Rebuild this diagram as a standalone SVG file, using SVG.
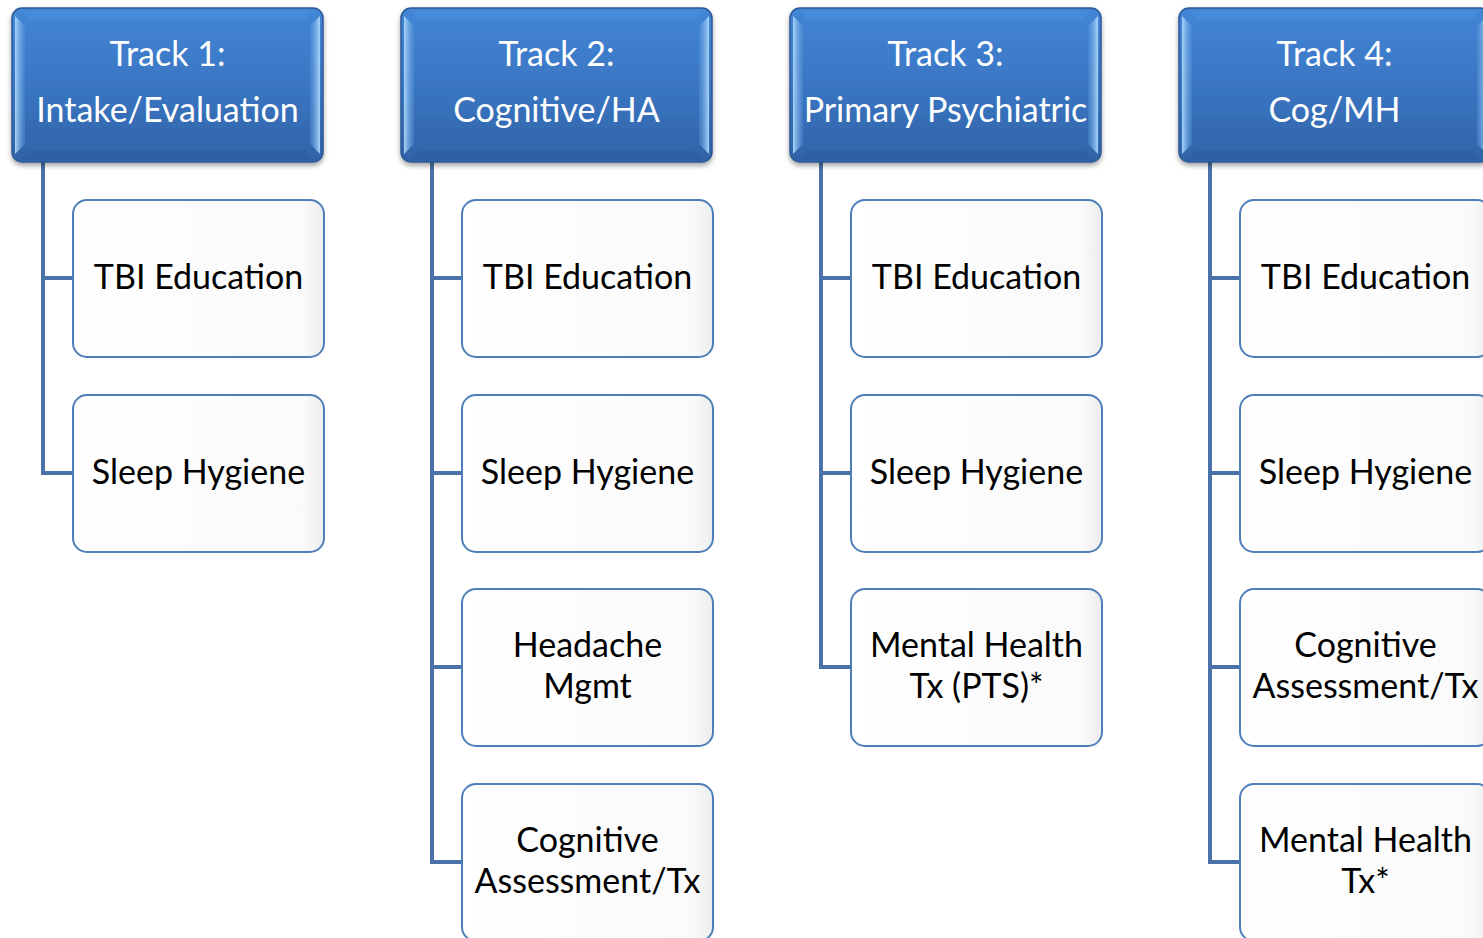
<svg xmlns="http://www.w3.org/2000/svg" width="1483" height="938" viewBox="0 0 1483 938">
  <style>
    .hdr-text { font-family: Lato, "Open Sans", sans-serif; font-size: 34px; fill: #ffffff; text-anchor: middle; }
    .box-text { font-family: Lato, "Open Sans", sans-serif; font-size: 34px; fill: #000000; text-anchor: middle; }
    .conn { fill: none; stroke: #4a72a8; stroke-width: 4; }
    .box { fill: url(#boxFill); stroke: #4f7fb8; stroke-width: 2; }
    .hdr { fill: url(#hdrFill); stroke: #2b5a96; stroke-width: 1.5; }
  </style>
  <defs>
    <linearGradient id="hdrFill" x1="0" y1="0" x2="0" y2="1">
      <stop offset="0" stop-color="#4386d6"/>
      <stop offset="0.5" stop-color="#3a76c3"/>
      <stop offset="1" stop-color="#3063a7"/>
    </linearGradient>
    <linearGradient id="bevelLeft" x1="0" y1="0" x2="1" y2="0">
      <stop offset="0" stop-color="#a8d4f8"/>
      <stop offset="1" stop-color="#5c98dc" stop-opacity="0.3"/>
    </linearGradient>
    <linearGradient id="bevelRight" x1="1" y1="0" x2="0" y2="0">
      <stop offset="0" stop-color="#a8d4f8"/>
      <stop offset="1" stop-color="#5c98dc" stop-opacity="0.3"/>
    </linearGradient>
    <linearGradient id="boxFill" x1="0" y1="0" x2="1" y2="0">
      <stop offset="0" stop-color="#ffffff"/>
      <stop offset="0.92" stop-color="#fafafa"/>
      <stop offset="1" stop-color="#ececec"/>
    </linearGradient>
    <filter id="shadow" x="-10%" y="-10%" width="120%" height="125%">
      <feDropShadow dx="0" dy="3" stdDeviation="2.5" flood-color="#000" flood-opacity="0.35"/>
    </filter>
    <!-- beveled header shape at origin, 311 x 154 -->
    <g id="header">
      <rect class="hdr" x="0" y="0" width="311" height="154" rx="10" filter="url(#shadow)"/>
      <path d="M3 8 L13 18 L13 136 L3 146 Z" fill="url(#bevelLeft)"/>
      <path d="M308 8 L298 18 L298 136 L308 146 Z" fill="url(#bevelRight)"/>
      <path d="M10 2 L301 2 L294 12 L17 12 Z" fill="#4c8fde" opacity="0.5"/>
      <path d="M17 142 L294 142 L301 152 L10 152 Z" fill="#2a5a98" opacity="0.45"/>
    </g>
  </defs>

  <!-- connectors from each track header to its items -->
  <g id="connectors">
    <path class="conn" d="M43 162 V473 H73 M43 278 H73"/>
    <path class="conn" d="M432 162 V862 H462 M432 278 H462 M432 473 H462 M432 667 H462"/>
    <path class="conn" d="M821 162 V667 H851 M821 278 H851 M821 473 H851"/>
    <path class="conn" d="M1210 162 V862 H1240 M1210 278 H1240 M1210 473 H1240 M1210 667 H1240"/>
  </g>

  <!-- Track 1 -->
  <g id="track1">
    <use href="#header" x="12" y="8"/>
    <text class="hdr-text" x="167.5" y="66">Track 1:</text>
    <text class="hdr-text" x="167.5" y="122">Intake/Evaluation</text>
  </g>
  <g id="t1-tbi">
    <rect class="box" x="73" y="200" width="251" height="157" rx="14"/>
    <text class="box-text" x="198.5" y="289">TBI Education</text>
  </g>
  <g id="t1-sleep">
    <rect class="box" x="73" y="395" width="251" height="157" rx="14"/>
    <text class="box-text" x="198.5" y="484">Sleep Hygiene</text>
  </g>

  <!-- Track 2 -->
  <g id="track2">
    <use href="#header" x="401" y="8"/>
    <text class="hdr-text" x="556.5" y="66">Track 2:</text>
    <text class="hdr-text" x="556.5" y="122">Cognitive/HA</text>
  </g>
  <g id="t2-tbi">
    <rect class="box" x="462" y="200" width="251" height="157" rx="14"/>
    <text class="box-text" x="587.5" y="289">TBI Education</text>
  </g>
  <g id="t2-sleep">
    <rect class="box" x="462" y="395" width="251" height="157" rx="14"/>
    <text class="box-text" x="587.5" y="484">Sleep Hygiene</text>
  </g>
  <g id="t2-headache">
    <rect class="box" x="462" y="589" width="251" height="157" rx="14"/>
    <text class="box-text" x="587.5" y="657">Headache</text>
    <text class="box-text" x="587.5" y="698">Mgmt</text>
  </g>
  <g id="t2-cog">
    <rect class="box" x="462" y="784" width="251" height="157" rx="14"/>
    <text class="box-text" x="587.5" y="852">Cognitive</text>
    <text class="box-text" x="587.5" y="893">Assessment/Tx</text>
  </g>

  <!-- Track 3 -->
  <g id="track3">
    <use href="#header" x="790" y="8"/>
    <text class="hdr-text" x="945.5" y="66">Track 3:</text>
    <text class="hdr-text" x="945.5" y="122">Primary Psychiatric</text>
  </g>
  <g id="t3-tbi">
    <rect class="box" x="851" y="200" width="251" height="157" rx="14"/>
    <text class="box-text" x="976.5" y="289">TBI Education</text>
  </g>
  <g id="t3-sleep">
    <rect class="box" x="851" y="395" width="251" height="157" rx="14"/>
    <text class="box-text" x="976.5" y="484">Sleep Hygiene</text>
  </g>
  <g id="t3-mh">
    <rect class="box" x="851" y="589" width="251" height="157" rx="14"/>
    <text class="box-text" x="976.5" y="657">Mental Health</text>
    <text class="box-text" x="976.5" y="698">Tx (PTS)*</text>
  </g>

  <!-- Track 4 -->
  <g id="track4">
    <use href="#header" x="1179" y="8"/>
    <text class="hdr-text" x="1334.5" y="66">Track 4:</text>
    <text class="hdr-text" x="1334.5" y="122">Cog/MH</text>
  </g>
  <g id="t4-tbi">
    <rect class="box" x="1240" y="200" width="251" height="157" rx="14"/>
    <text class="box-text" x="1365.5" y="289">TBI Education</text>
  </g>
  <g id="t4-sleep">
    <rect class="box" x="1240" y="395" width="251" height="157" rx="14"/>
    <text class="box-text" x="1365.5" y="484">Sleep Hygiene</text>
  </g>
  <g id="t4-cog">
    <rect class="box" x="1240" y="589" width="251" height="157" rx="14"/>
    <text class="box-text" x="1365.5" y="657">Cognitive</text>
    <text class="box-text" x="1365.5" y="698">Assessment/Tx</text>
  </g>
  <g id="t4-mh">
    <rect class="box" x="1240" y="784" width="251" height="157" rx="14"/>
    <text class="box-text" x="1365.5" y="852">Mental Health</text>
    <text class="box-text" x="1365.5" y="893">Tx*</text>
  </g>
</svg>
